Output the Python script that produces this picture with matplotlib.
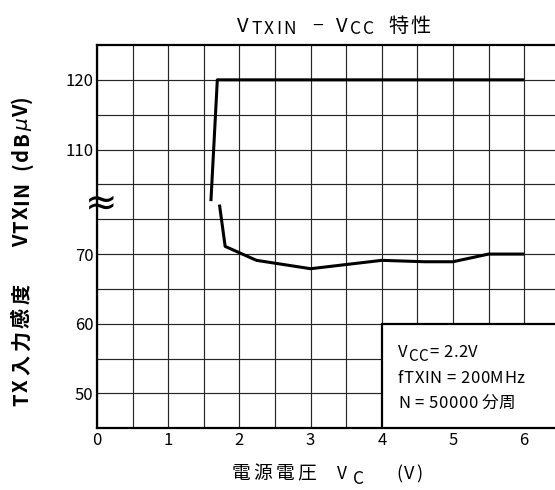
import matplotlib
matplotlib.use("Agg")
import matplotlib.pyplot as plt
from matplotlib.font_manager import FontProperties, findfont, get_font
from matplotlib.transforms import IdentityTransform
from matplotlib.patches import Rectangle

JP = "Noto Sans CJK JP"
plt.rcParams["font.family"] = [JP, "DejaVu Sans"]

# ---- data -------------------------------------------------------------
# upper branch (plotted on the upper, broken part of the axis)
vc_high = [1.60, 1.69, 6.0]
vtxin_high = [102.6, 120.0, 120.0]
# lower branch
vc_low = [1.72, 1.80, 2.24, 3.0, 4.0, 4.6, 5.0, 5.5, 6.0]
vtxin_low = [77.1, 71.1, 69.1, 67.9, 69.1, 68.9, 68.9, 70.0, 70.0]

x_major = [0, 1, 2, 3, 4, 5, 6]
x_minor = [0.5, 1.5, 2.5, 3.5, 4.5, 5.5]
x_labels = ["0", "1", "2", "3", "4", "5", "6"]
y_high_major = [110, 120]
y_high_minor = [105, 115]
y_low_major = [50, 60, 70]
y_low_minor = [55, 65, 75]

# ---- layout -----------------------------------------------------------
W, H = 555, 490
fig = plt.figure(figsize=(W / 100, H / 100), dpi=100)

left_px, top_px, bottom_px = 97, 45, 428.3
low_lim = (45, 77.35)
high_lim = (102.35, 125)
span = (low_lim[1] - low_lim[0]) + (high_lim[1] - high_lim[0])
k = (bottom_px - top_px) / span
h_low = (low_lim[1] - low_lim[0]) * k
h_high = (high_lim[1] - high_lim[0]) * k

ax_lo = fig.add_axes([left_px / W, 1 - bottom_px / H, 1 - left_px / W, h_low / H])
ax_hi = fig.add_axes([left_px / W, 1 - bottom_px / H + h_low / H, 1 - left_px / W, h_high / H])

xmax = (W - left_px) / 71.2
SPINE = 1.6
GRID = dict(color="#262626", lw=0.85)

for ax in (ax_lo, ax_hi):
    ax.set_xlim(0, xmax)
    ax.set_xticks(x_major)
    ax.set_xticks(x_minor, minor=True)
    ax.set_axisbelow(True)
    ax.grid(True, which="both", **GRID)
    ax.tick_params(which="both", length=0)
    ax.spines["right"].set_visible(False)
    ax.spines["left"].set_linewidth(SPINE)

ax_lo.set_ylim(*low_lim)
ax_lo.set_yticks(y_low_major, [str(v) for v in y_low_major])
ax_lo.set_yticks(y_low_minor, minor=True)
ax_lo.set_xticks(x_major, x_labels)
ax_lo.spines["top"].set_visible(False)
ax_lo.spines["bottom"].set_linewidth(SPINE)

ax_hi.set_ylim(*high_lim)
ax_hi.set_yticks(y_high_major, [str(v) for v in y_high_major])
ax_hi.set_yticks(y_high_minor, minor=True)
ax_hi.tick_params(labelbottom=False)
ax_hi.spines["bottom"].set_visible(False)
ax_hi.spines["top"].set_linewidth(SPINE)

for ax in (ax_lo, ax_hi):
    ax.tick_params(axis="y", labelsize=12, pad=2.5)
    ax.tick_params(axis="x", labelsize=12, pad=3)

# ---- curves -----------------------------------------------------------
line_kw = dict(color="black", lw=2.2, solid_capstyle="butt", zorder=4)
ax_hi.plot(vc_high, vtxin_high, **line_kw)
ax_lo.plot(vc_low, vtxin_low, **line_kw)

# conditions box
ax_lo.add_patch(Rectangle((4, low_lim[0]), 3, 60 - low_lim[0],
                          facecolor="white", edgecolor="black", lw=SPINE, zorder=3))

# axis break mark
fig.text(101, 287, "\u2248", transform=IdentityTransform(), fontsize=28,
         family="DejaVu Sans", ha="center", va="center", zorder=10)


# ---- text with letter spacing -----------------------------------------
def advance(ch, props):
    fp = FontProperties(family=props.get("family", [JP]),
                        weight=props.get("weight", "normal"),
                        style=props.get("style", "normal"),
                        size=props["size"])
    font = get_font(findfont(fp))
    font.set_size(props["size"], 100)
    g = font.load_char(ord(ch))
    return g.linearHoriAdvance / 65536


def run(x, y, text, size, track=0.0, dy=0.0, rotation=0, **extra):
    props = dict(size=size, **extra)
    for ch in text:
        adv = advance(ch, props)
        if ch != " ":
            kw = dict(fontsize=size, transform=IdentityTransform(),
                      ha="left", va="baseline", zorder=6)
            if "family" in extra:
                kw["family"] = extra["family"]
            if "weight" in extra:
                kw["fontweight"] = extra["weight"]
            if "style" in extra:
                kw["fontstyle"] = extra["style"]
            if rotation:
                fig.text(x - dy, y, ch, rotation=90, rotation_mode="anchor", **kw)
            else:
                fig.text(x, y + dy, ch, **kw)
        if rotation:
            y += adv + track
        else:
            x += adv + track
    return y if rotation else x


# title
tb = H - 32
run(237, tb, "V", 14.5)
run(251, tb, "TXIN", 12.5, track=2.3, dy=-1.5)
run(312, tb, "\u2212", 14)
run(336, tb, "V", 14.5)
run(350, tb, "CC", 12.5, track=2.0, dy=-1.5)
run(388, tb, "特性", 14.5, track=2.0)

# x axis label
run(232, H - 479, "電源電圧", 13.5, track=3.0)
run(337, H - 479, "V", 12.5)
run(353, H - 484, "C", 12.5)
run(396, H - 479, "(V)", 13, track=2.0)

# y axis label (rotated, reads bottom to top)
yx = 28
yy = run(yx, H - 406, "TX", 14.5, track=1.0, rotation=90, weight="bold")
run(yx, yy + 4, "入力感度", 14.5, track=3.5, rotation=90, weight="bold")
run(yx, H - 247, "VTXIN", 14.5, track=1.5, rotation=90, weight="bold")
yy = run(yx, H - 170, "(dB", 14.5, track=1.5, rotation=90, weight="bold")
yy = run(yx, yy, "\u03bc", 14.5, track=1.0, rotation=90, family=["DejaVu Sans"], style="oblique")
run(yx, yy, "V)", 14.5, track=1.5, rotation=90, weight="bold")

# measurement conditions
xx = run(398, H - 357, "V", 12, track=0.5)
xx = run(xx, H - 357, "CC", 11, track=0.5, dy=-3.5)
run(xx + 1, H - 357, "= 2.2V", 12, track=0.5)
run(398, H - 383, "fTXIN = 200MHz", 12, track=0.5)
run(398, H - 408, "N = 50000 分周", 12, track=0.5)

fig.savefig("out.png", dpi=100)
